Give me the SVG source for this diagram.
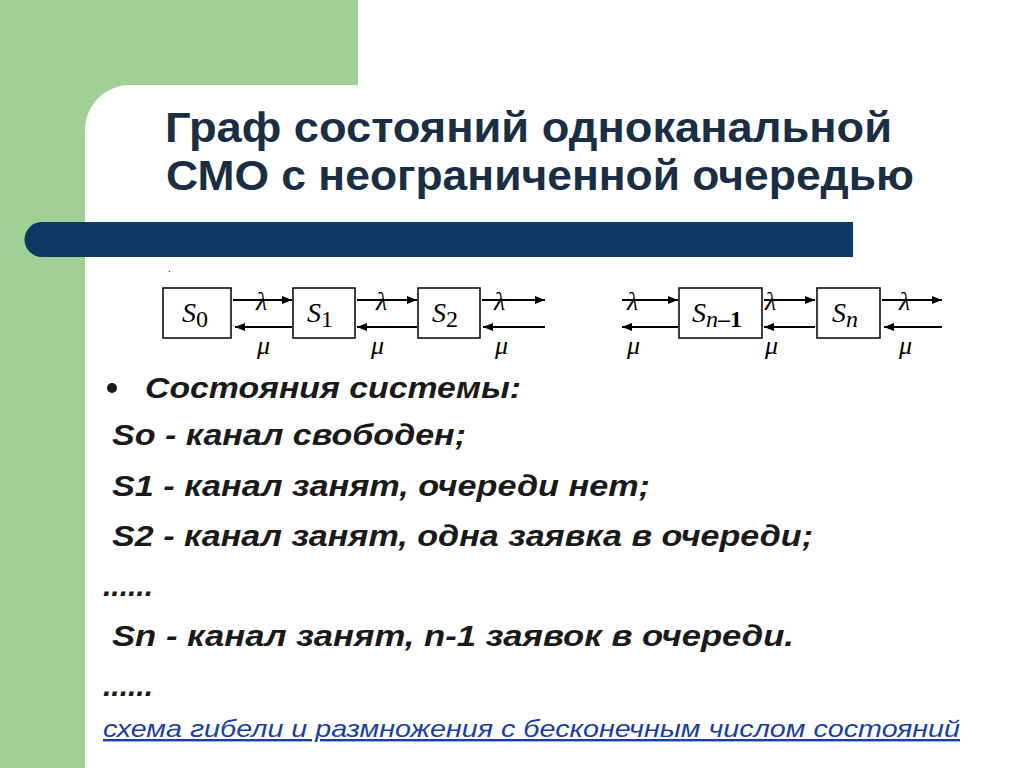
<svg xmlns="http://www.w3.org/2000/svg" width="1024" height="768" viewBox="0 0 1024 768">
<defs>
<marker id="ah" viewBox="0 0 10 10" refX="10" refY="5" markerWidth="5" markerHeight="5" orient="auto-start-reverse"><path d="M0,1 L10,5 L0,9 z" fill="#000"/></marker>
<style>
.box{fill:#fff;stroke:#000;stroke-width:1.5}
.ar{stroke:#000;stroke-width:2;fill:none;marker-end:url(#ah)}
.s{font-family:"Liberation Serif",serif;font-style:italic;font-size:28px}
.g{font-family:"Liberation Serif",serif;font-style:italic;font-size:26px}
.t{font-family:"Liberation Sans",Arial,sans-serif;font-weight:bold;font-size:42px;fill:#1a2e44}
.b{font-family:"Liberation Sans",Arial,sans-serif;font-weight:bold;font-style:italic;font-size:30px;fill:#1a1a1a}
</style>
</defs>
<rect width="1024" height="768" fill="#fff"/>
<path d="M0,0 H358 V85 H130 A45,45 0 0 0 85,130 V768 H0 Z" fill="#a2cf96"/>
<path d="M42,222 H853 V257 H42 A17.5,17.5 0 0 1 42,222 Z" fill="#0d3966"/>
<text class="t" x="165" y="142" textLength="727" lengthAdjust="spacingAndGlyphs">Граф состояний одноканальной</text>
<text class="t" x="166" y="190" textLength="748" lengthAdjust="spacingAndGlyphs">СМО с неограниченной очередью</text>
<g id="S0"><rect class="box" x="163" y="288" width="68" height="50"/><text class="s" x="182" y="322">S<tspan font-style="normal" font-size="24" dy="5">0</tspan></text></g>
<g id="S1"><rect class="box" x="293" y="288" width="62" height="50"/><text class="s" x="307" y="322">S<tspan font-style="normal" font-size="24" dy="5">1</tspan></text></g>
<g id="S2"><rect class="box" x="418" y="288" width="62" height="50"/><text class="s" x="432" y="322">S<tspan font-style="normal" font-size="24" dy="5">2</tspan></text></g>
<g id="Sn1"><rect class="box" x="679" y="288" width="83" height="50"/><text class="s" x="692" y="322">S<tspan font-size="24" dy="5">n</tspan><tspan font-style="normal" font-weight="bold" font-size="24">–1</tspan></text></g>
<g id="Sn"><rect class="box" x="817" y="288" width="63" height="50"/><text class="s" x="832" y="322">S<tspan font-size="24" dy="5">n</tspan></text></g>
<g id="connectors">
<line class="ar" x1="233" y1="300" x2="292" y2="300"/><line class="ar" x1="292" y1="327" x2="235" y2="327"/>
<line class="ar" x1="357" y1="300" x2="417" y2="300"/><line class="ar" x1="417" y1="327" x2="357" y2="327"/>
<line class="ar" x1="482" y1="300" x2="545" y2="300"/><line class="ar" x1="545" y1="327" x2="483" y2="327"/>
<line class="ar" x1="622" y1="300" x2="678" y2="300"/><line class="ar" x1="678" y1="327" x2="622" y2="327"/>
<line class="ar" x1="764" y1="300" x2="815" y2="300"/><line class="ar" x1="815" y1="327" x2="764" y2="327"/>
<line class="ar" x1="882" y1="300" x2="942" y2="300"/><line class="ar" x1="942" y1="327" x2="884" y2="327"/>
</g>
<g class="g">
<text x="256" y="310">λ</text><text x="376" y="310">λ</text><text x="494" y="310">λ</text><text x="627" y="310">λ</text><text x="765" y="310">λ</text><text x="899" y="310">λ</text>
<text x="257" y="354">μ</text><text x="371" y="354">μ</text><text x="495" y="354">μ</text><text x="627" y="354">μ</text><text x="765" y="354">μ</text><text x="899" y="354">μ</text>
</g>
<text x="168" y="272" font-size="10" font-family="Liberation Sans,sans-serif">.</text>
<circle cx="112" cy="388" r="5" fill="#1a1a1a"/>
<text class="b" x="145" y="398" textLength="376" lengthAdjust="spacingAndGlyphs">Состояния системы:</text>
<text class="b" x="112" y="445" textLength="354" lengthAdjust="spacingAndGlyphs">So - канал свободен;</text>
<text class="b" x="112" y="496" textLength="538" lengthAdjust="spacingAndGlyphs">S1 - канал занят, очереди нет;</text>
<text class="b" x="112" y="546" textLength="701" lengthAdjust="spacingAndGlyphs">S2 - канал занят, одна заявка в очереди;</text>
<text class="b" x="103" y="596">......</text>
<text class="b" x="112" y="646" textLength="682" lengthAdjust="spacingAndGlyphs">Sn - канал занят,  n-1 заявок в очереди.</text>
<text class="b" x="103" y="696">......</text>
<text x="103" y="737" font-family="Liberation Sans,sans-serif" font-style="italic" font-size="24" fill="#1b3fa0" text-decoration="underline" textLength="857" lengthAdjust="spacingAndGlyphs">схема гибели и размножения с бесконечным числом состояний</text>
</svg>
